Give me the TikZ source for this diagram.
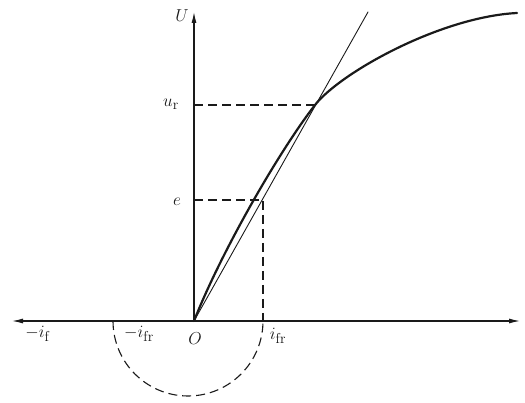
\documentclass[tikz,border=0pt]{standalone}
\usepackage{amsmath,amssymb}
\usepackage{xcolor}
\usepackage{tikz}
\usetikzlibrary{arrows.meta,positioning,calc}
\definecolor{ink}{HTML}{1A1A1A}
\tikzset{
    every picture/.style={line cap=round,line join=round},
    axisline/.style={draw=ink,line width=1.1pt},
    magcurve/.style={draw=ink,line width=2.2pt},
    fieldline/.style={draw=ink,line width=0.9pt},
    guideline/.style={draw=ink,line width=1.1pt,line cap=butt,
      dash pattern=on 9pt off 5pt},
    axislabel/.style={text=ink,font=\fontsize{19}{22}\selectfont,inner sep=1pt}
}

\begin{document}
\begin{tikzpicture}[>={Latex[length=11pt,width=5pt]},x=1pt,y=-1pt]
  \useasboundingbox (0,0) rectangle (525,403);
  \coordinate (o) at (194,321);
  \coordinate (west) at (12,321);
  \coordinate (east) at (520,321);
  \coordinate (north) at (194,12);
  \coordinate (ur) at (315,105);
  \coordinate (ep) at (263,200);
  \coordinate (fieldend) at (368,12);
  \coordinate (curveend) at (517,13);
  \coordinate (nfr) at (113,321);
  \coordinate (pfr) at (ep |- o);
  % axes
  \draw[axisline,<->] (west) -- (east);
  \draw[axisline,->] (o) -- (north);
  % no-load curve and field line
  \draw[magcurve] (o) .. controls (222,250) and (280,150) .. (ur)
    .. controls (340,73) and (440,17) .. (curveend);
  \draw[fieldline] (o) -- (fieldend);
  % guides
  \draw[guideline] (ur -| o) -- (ur);
  \draw[guideline] (ep -| o) -- (ep) -- (pfr);
  \draw[guideline] (nfr) arc[start angle=180,end angle=0,radius=75];
  % labels
  \node[axislabel] (ulbl) at (182,16) {$U$};
  \node[axislabel] (urlbl) at (171,104) {$u_{\mathrm r}$};
  \node[axislabel] (elbl) at (177,202) {$e$};
  \node[axislabel] (iflbl) at (38,334) {$-i_{\mathrm f}$};
  \node[axislabel] (nfrlbl) at (139,334) {$-i_{\mathrm{fr}}$};
  \node[axislabel] (olbl) at (195,339) {$O$};
  \node[axislabel] (pfrlbl) at (278,336) {$i_{\mathrm{fr}}$};
\end{tikzpicture}
\end{document}
